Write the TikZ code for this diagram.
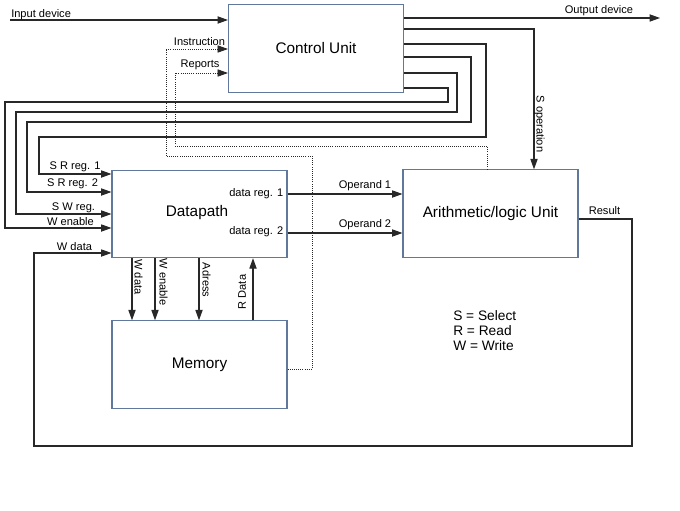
\documentclass[tikz,border=0pt]{standalone}
\usepackage{fontspec}
\setmainfont{Liberation Sans}
\usetikzlibrary{arrows.meta}
\definecolor{boxc}{RGB}{95,120,155}
\definecolor{linec}{RGB}{40,40,40}
\tikzset{
  box/.style={draw=boxc, line width=0.8pt, fill=white, minimum width=131.25pt, minimum height=65.5pt, inner sep=0pt, font=\fontsize{11.5}{13}\selectfont},
  wire/.style={draw=linec, line width=0.8pt},
  arr/.style={wire, -{Triangle[length=7.8pt,width=5.4pt]}},
  dot/.style={draw=linec, line width=0.6pt, densely dotted},
  dotarr/.style={dot, -{Triangle[length=7.8pt,width=5.4pt]}},
  lbl/.style={inner sep=0pt, font=\fontsize{8.3}{10}\selectfont},
}
\begin{document}
\begin{tikzpicture}[x=0.75pt,y=-0.75pt]
\useasboundingbox (0,0) rectangle (680,510);
\fill[white] (0,0) rectangle (680,510);

% boxes
\node[box] (cu) at (316,48.5) {Control Unit};
\node[box] (dp) at (199.5,214) {};
\node[font=\fontsize{11.5}{13}\selectfont] (dpl) at (197,213) {Datapath};
\node[box] (alu) at (490.5,213.5) {Arithmetic/logic Unit};
\node[box] (mem) at (199.5,364.5) {Memory};

% input / output
\coordinate (inp) at (10,20);
\coordinate (outp) at (660,18);
\draw[arr] (inp) -- (inp -| cu.west);
\node[lbl, anchor=west] (inpl) at (11,15) {Input device};
\draw[arr] (cu.east |- outp) -- (outp);
\node[lbl] (outpl) at (599,11) {Output device};

% S operation
\coordinate (sop) at (534,29);
\draw[arr] (cu.east |- sop) -| (sop |- alu.north);
\node[lbl, rotate=-90] (sopl) at (539.5,124) {S operation};

% nested control lines
\coordinate (c1) at (486,44);
\coordinate (c2) at (471,57);
\coordinate (c3) at (457,73);
\coordinate (c4) at (448,88);
\coordinate (d1) at (39,174);
\coordinate (d2) at (27,192);
\coordinate (d3) at (16,214);
\coordinate (d4) at (5,228);
\draw[arr] (cu.east |- c1) -- (c1) -- (486,137) -- (39,137) -- (d1) -- (d1 -| dp.west);
\draw[arr] (cu.east |- c2) -- (c2) -- (471,122) -- (27,122) -- (d2) -- (d2 -| dp.west);
\draw[arr] (cu.east |- c3) -- (c3) -- (457,112) -- (16,112) -- (d3) -- (d3 -| dp.west);
\draw[arr] (cu.east |- c4) -- (c4) -- (448,102) -- (5,102) -- (d4) -- (d4 -| dp.west);
\node[lbl] (l1) at (75,167) {S R reg. 1};
\node[lbl] (l2) at (72.5,184) {S R reg. 2};
\node[lbl] (l3) at (73.5,208) {S W reg.};
\node[lbl] (l4) at (70.5,222) {W enable};

% datapath -> ALU
\coordinate (o1) at (0,194);
\coordinate (o2) at (0,233);
\node[lbl, anchor=east] (dr1) at (283.5,194) {data reg. 1};
\node[lbl, anchor=east] (dr2) at (283.5,232) {data reg. 2};
\draw[arr] (dp.east |- o1) -- (alu.west |- o1);
\draw[arr] (dp.east |- o2) -- (alu.west |- o2);
\node[lbl] (op1) at (365,186) {Operand 1};
\node[lbl] (op2) at (365,225) {Operand 2};

% result loop
\coordinate (r1) at (632,219);
\coordinate (r2) at (34,446);
\coordinate (wd) at (34,253);
\draw[arr] (alu.east |- r1) -- (r1) |- (r2) -- (wd) -- (wd -| dp.west);
\node[lbl] (resl) at (604.5,211) {Result};
\node[lbl] (wdl) at (74.5,246.5) {W data};

% datapath <-> memory
\coordinate (m1) at (132,0);
\coordinate (m2) at (155,0);
\coordinate (m3) at (199,0);
\coordinate (m4) at (253,0);
\draw[arr] (m1 |- dp.south) -- (m1 |- mem.north);
\draw[arr] (m2 |- dp.south) -- (m2 |- mem.north);
\draw[arr] (m3 |- dp.south) -- (m3 |- mem.north);
\draw[arr] (m4 |- mem.north) -- (m4 |- dp.south);
\node[lbl, rotate=-90] (wdl2) at (138.5,277) {W data};
\node[lbl, rotate=-90] (wel2) at (163.5,282) {W enable};
\node[lbl, rotate=-90] (adl) at (206.5,280) {Adress};
\node[lbl, rotate=90] (rdl) at (242,292) {R Data};

% dotted: instruction and reports
\coordinate (ins) at (166,49);
\coordinate (rep) at (175,73);
\draw[dotarr] (mem.east |- 0,369) -- (312,369) -- (312,156) -- (166,156) -- (ins) -- (ins -| cu.west);
\draw[dotarr] (487,0 |- alu.north) -- (487,146) -- (175,146) -- (rep) -- (rep -| cu.west);
\node[lbl] (insl) at (199.5,42) {Instruction};
\node[lbl] (repl) at (200,65) {Reports};

% legend
\node[anchor=north west, align=left, inner sep=0pt, font=\fontsize{10.3}{11.3}\selectfont] (leg) at (453,310) {S = Select\\R = Read\\W = Write};
\end{tikzpicture}
\end{document}
